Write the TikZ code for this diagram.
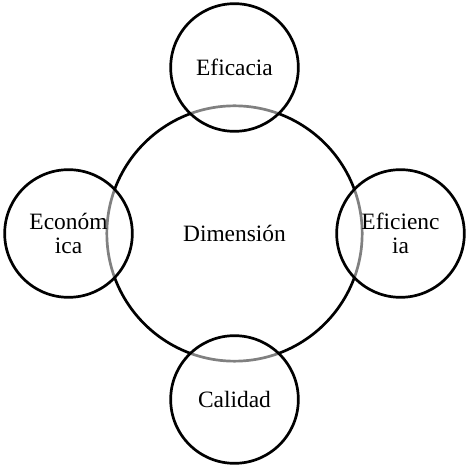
\documentclass[tikz,border=0pt]{standalone}
\usepackage{fontspec}
\setmainfont{Liberation Serif}
\usetikzlibrary{shapes}

\begin{document}
\begin{tikzpicture}
        \tikzstyle{every path}=[line width=2.3pt]
        \useasboundingbox (-7.035,-6.975) rectangle (7.005,7.005);

        \edef\sizebig{7.66cm}
        \edef\sizesmall{3.83cm}
        \tikzstyle{core}=[draw,circle,minimum size=\sizebig,inner sep=0pt,font=\fontsize{20}{21}\selectfont]
        \tikzstyle{aspect}=[draw,circle,minimum size=\sizesmall,inner sep=0pt,align=center,
                fill=white,fill opacity=0.5,text opacity=1,font=\fontsize{20}{21}\selectfont]

        \node [core] (dim) at (0,0) {Dimensión};
        \foreach \ang/\name/\txt in {90/eficacia/{Eficacia},
                                       0/eficiencia/{Eficienc\\ia},
                                     270/calidad/{Calidad},
                                     180/economica/{Económ\\ica}} {
            \node [aspect] (\name) at (\ang:4.98) {\txt};
        };
\end{tikzpicture}
\end{document}
